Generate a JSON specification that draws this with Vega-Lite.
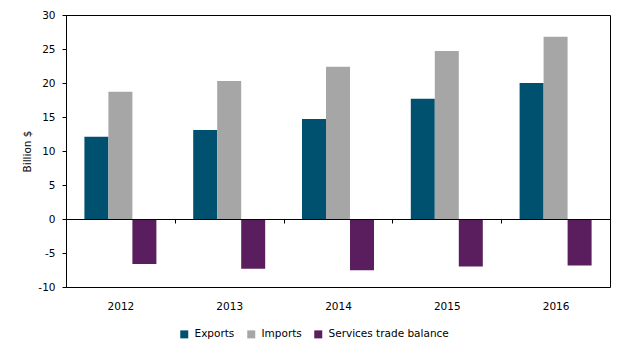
{
  "$schema": "https://vega.github.io/schema/vega-lite/v6.json",
  "width": 544,
  "height": 272,
  "autosize": {"type": "none"},
  "padding": {"left": 66, "top": 15, "right": 14, "bottom": 66},
  "background": "white",
  "config": {
    "view": {"stroke": "black", "strokeWidth": 1},
    "font": "DejaVu Sans",
    "axis": {"labelColor": "#000000", "titleColor": "#000000", "domainColor": "#000000", "tickColor": "#000000", "grid": false}
  },
  "data": {
    "values": [
      {"year": "2012", "series": "Exports", "value": 12.1},
      {"year": "2012", "series": "Imports", "value": 18.7},
      {"year": "2012", "series": "Services trade balance", "value": -6.6},
      {"year": "2013", "series": "Exports", "value": 13.1},
      {"year": "2013", "series": "Imports", "value": 20.3},
      {"year": "2013", "series": "Services trade balance", "value": -7.3},
      {"year": "2014", "series": "Exports", "value": 14.7},
      {"year": "2014", "series": "Imports", "value": 22.4},
      {"year": "2014", "series": "Services trade balance", "value": -7.55},
      {"year": "2015", "series": "Exports", "value": 17.7},
      {"year": "2015", "series": "Imports", "value": 24.7},
      {"year": "2015", "series": "Services trade balance", "value": -7.0},
      {"year": "2016", "series": "Exports", "value": 20.0},
      {"year": "2016", "series": "Imports", "value": 26.8},
      {"year": "2016", "series": "Services trade balance", "value": -6.85}
    ]
  },
  "mark": {"type": "bar"},
  "encoding": {
    "x": {
      "field": "year",
      "type": "nominal",
      "scale": {"paddingInner": 0, "paddingOuter": 0},
      "axis": {
        "orient": "bottom",
        "offset": -68,
        "zindex": 1,
        "tickBand": "extent",
        "ticks": true,
        "tickSize": 4,
        "labelAngle": 0,
        "labelPadding": 78,
        "labelBaseline": "top",
        "labelFontSize": 10.5,
        "title": null
      }
    },
    "xOffset": {
      "field": "series",
      "type": "nominal",
      "sort": ["Exports", "Imports", "Services trade balance"],
      "scale": {"paddingInner": 0, "paddingOuter": 0.767}
    },
    "y": {
      "field": "value",
      "type": "quantitative",
      "scale": {"domain": [-10, 30], "nice": false, "zero": false},
      "axis": {
        "values": [-10, -5, 0, 5, 10, 15, 20, 25, 30],
        "labelExpr": "'' + datum.value",
        "tickSize": 4,
        "labelPadding": 7,
        "labelFontSize": 10.5,
        "title": "Billion $",
        "titleFontWeight": "normal",
        "titleFontSize": 10.5,
        "titlePadding": 5
      }
    },
    "color": {
      "field": "series",
      "type": "nominal",
      "sort": ["Exports", "Imports", "Services trade balance"],
      "scale": {"domain": ["Exports", "Imports", "Services trade balance"], "range": ["#00506f", "#a6a6a6", "#5a1e5e"]},
      "legend": {
        "orient": "none",
        "direction": "horizontal",
        "legendX": 113,
        "legendY": 314,
        "title": null,
        "symbolType": "square",
        "symbolSize": 64,
        "symbolStrokeWidth": 0,
        "symbolOpacity": 1,
        "labelFontSize": 10.5,
        "labelColor": "#000000",
        "labelOffset": 5,
        "columnPadding": 11,
        "padding": 0
      }
    }
  }
}
